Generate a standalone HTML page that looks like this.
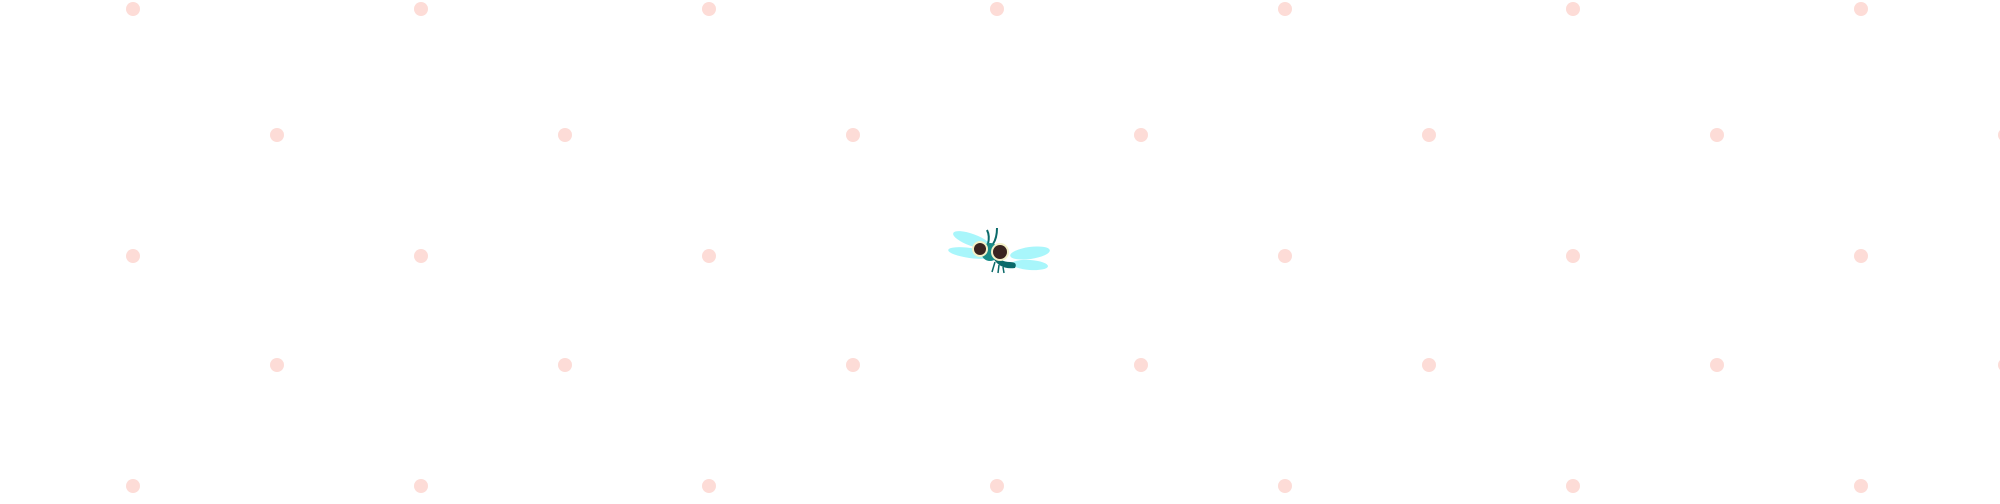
<!DOCTYPE html>
<html><head><style>
html,body{margin:0;padding:0;background:#fff;}
body{width:2000px;height:499px;overflow:hidden;}
</style></head><body>
<svg width="2000" height="499" xmlns="http://www.w3.org/2000/svg">
<g fill="#fddcd7">
<circle cx="133" cy="9" r="7"/><circle cx="421" cy="9" r="7"/><circle cx="709" cy="9" r="7"/><circle cx="997" cy="9" r="7"/><circle cx="1285" cy="9" r="7"/><circle cx="1573" cy="9" r="7"/><circle cx="1861" cy="9" r="7"/>
<circle cx="277" cy="135" r="7"/><circle cx="565" cy="135" r="7"/><circle cx="853" cy="135" r="7"/><circle cx="1141" cy="135" r="7"/><circle cx="1429" cy="135" r="7"/><circle cx="1717" cy="135" r="7"/><circle cx="2005" cy="135" r="7"/>
<circle cx="133" cy="256" r="7"/><circle cx="421" cy="256" r="7"/><circle cx="709" cy="256" r="7"/><circle cx="1285" cy="256" r="7"/><circle cx="1573" cy="256" r="7"/><circle cx="1861" cy="256" r="7"/>
<circle cx="277" cy="365" r="7"/><circle cx="565" cy="365" r="7"/><circle cx="853" cy="365" r="7"/><circle cx="1141" cy="365" r="7"/><circle cx="1429" cy="365" r="7"/><circle cx="1717" cy="365" r="7"/><circle cx="2005" cy="365" r="7"/>
<circle cx="133" cy="486" r="7"/><circle cx="421" cy="486" r="7"/><circle cx="709" cy="486" r="7"/><circle cx="997" cy="486" r="7"/><circle cx="1285" cy="486" r="7"/><circle cx="1573" cy="486" r="7"/><circle cx="1861" cy="486" r="7"/>
</g>
<!-- fly -->
<g>
<ellipse cx="972" cy="240" rx="20" ry="6" transform="rotate(20 972 240)" fill="#a8f6fb"/>
<ellipse cx="970" cy="253" rx="22" ry="5" transform="rotate(8 970 253)" fill="#a8f6fb"/>
<ellipse cx="1030" cy="253" rx="20" ry="6" transform="rotate(-8 1030 253)" fill="#a8f6fb"/>
<ellipse cx="1030" cy="265" rx="18" ry="5" transform="rotate(4 1030 265)" fill="#a8f6fb"/>
<path d="M987 230 Q990 236 988 244" stroke="#0b6a6a" stroke-width="2" fill="none"/>
<path d="M997 228 Q997 238 993 244" stroke="#0b6a6a" stroke-width="2" fill="none"/>
<path d="M993 258 Q1000 270 1015 268 Q1018 262 1010 262 Q1000 262 995 254 Z" fill="#0b6a6a"/>
<path d="M995 262 l-3 10 M999 265 l-1 8 M1003 267 l1 6" stroke="#0b6a6a" stroke-width="1.5"/>
<ellipse cx="990" cy="252" rx="9" ry="9" fill="#1a8c88"/>
<circle cx="980" cy="249" r="8" fill="#f3f1c8"/>
<circle cx="980" cy="249" r="6" fill="#3a2420"/>
<circle cx="1000" cy="252" r="9" fill="#f3f1c8"/>
<circle cx="1000" cy="252" r="7" fill="#3a2420"/>
</g>
</svg>
</body></html>
